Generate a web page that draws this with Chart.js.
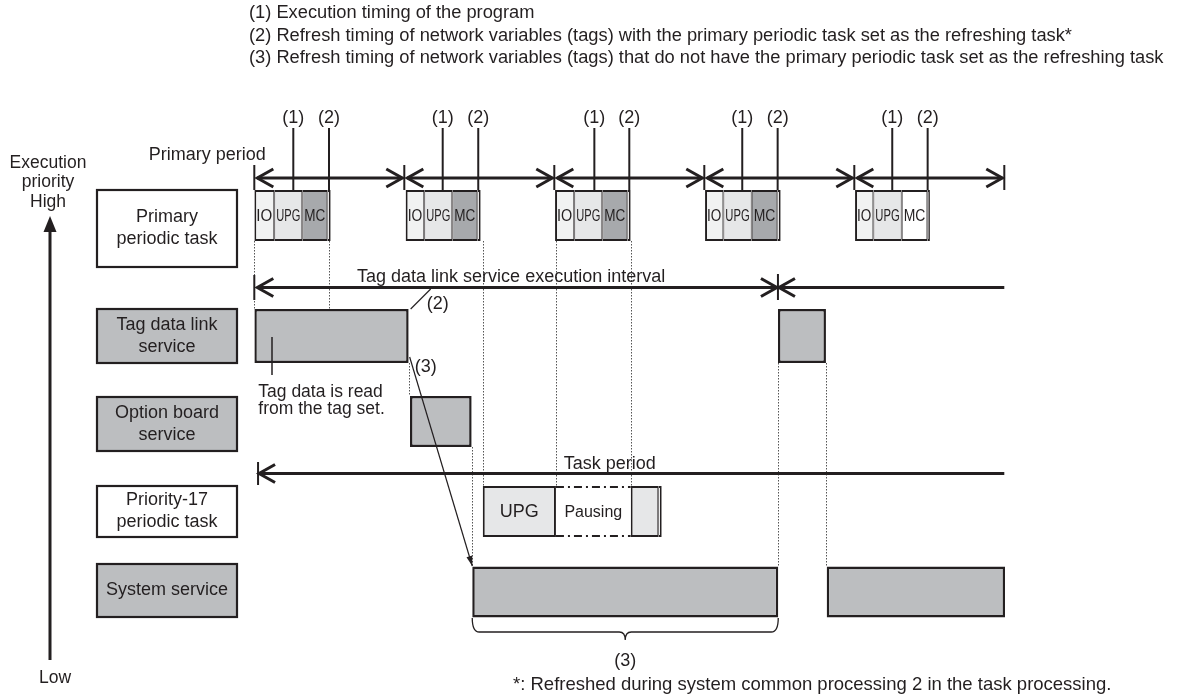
<!DOCTYPE html>
<html>
<head>
<meta charset="utf-8">
<script src="https://cdn.jsdelivr.net/npm/chart.js@4"></script>
<style>
  html, body { margin: 0; padding: 0; background: #fff; }
  canvas { display: block; }
</style>
</head>
<body>
<canvas id="myChart" width="1185" height="697"></canvas>
<script>
// ---- data (times in µs, primary period = 1000) ----
let rows = ['Primary periodic task', 'Tag data link service', 'Option board service', 'Priority-17 periodic task', 'System service'];
let rowText = [['Primary', 'periodic task'], ['Tag data link', 'service'], ['Option board', 'service'], ['Priority-17', 'periodic task'], ['System service']];

let periodTicks = [0, 1000, 2000, 3000, 4000, 5000];
let ioSpans   = [[0, 133], [1009, 1133], [2005, 2133], [3005, 3127], [4005, 4127]];
let upgSpans  = [[133, 320], [1133, 1320], [2133, 2320], [3127, 3316], [4127, 4316]];
let mcSpans   = [[320, 487], [1320, 1487], [2320, 2487], [3316, 3487], [4316, 4487]];
let tailSpans = [[487, 509], [1487, 1509], [2487, 2509], [3487, 3509], [4487, 4504]];
let programMarks = [260, 1256, 2267, 3253, 4253];   // (1)
let refreshMarks = [498, 1493, 2500, 3489, 4489];   // (2)

let tagLinkSpans = [[0, 1029], [3491, 3811]];
let optionSpans  = [[1038, 1449]];
let p17UpgSpans    = [[1523, 2011]];
let p17PauseSpans  = [[2011, 2509]];
let p17ResumeSpans = [[2509, 2693]];
let p17TailSpans   = [[2693, 2716]];
let systemSpans  = [[1453, 3493], [3816, 5005]];

let tagInterval = [0, 3491, 5000];
let taskPeriodStart = 25;
// dotted guides: [time, from row (bottom edge), to row (top edge)]
let guides = [[0, 0, 1], [498, 0, 1], [1029, 1, 2], [1449, 2, 4], [1523, 0, 3], [2011, 0, 3], [2509, 0, 3], [3491, 1, 4], [3811, 1, 4]];

let legendLines = [
  '(1) Execution timing of the program',
  '(2) Refresh timing of network variables (tags) with the primary periodic task set as the refreshing task*',
  '(3) Refresh timing of network variables (tags) that do not have the primary periodic task set as the refreshing task'
];
let footnote = '*: Refreshed during system common processing 2 in the task processing.';

// ---- styles / layout ----
const FONT = '"Liberation Sans", Arial, sans-serif';
const INK = '#231f20';
const GRAY = '#bcbec0', MID = '#a7a9ac', LIGHT = '#e6e7e8', PALE = '#f1f2f2';
const X0 = 254.3, PX_PER_US = 0.15, XMAX = 5010;
const rowBar = [[215.5, 51], [336, 54], [421.5, 51], [511.5, 51], [592, 51]];   // centre, thickness
const labelBox = [[190, 267], [309, 363], [397, 451], [486, 537], [564, 617]];
const labelFill = ['#fff', GRAY, GRAY, '#fff', GRAY];
const mcColors = [MID, MID, MID, MID, '#fff'];

function seg(caption, spans, row, fill, border) {
  return {
    label: caption || rows[row],
    caption: caption,
    data: spans.map(s => ({ x: s, y: rowBar[row][0] })),
    backgroundColor: fill,
    borderColor: INK,
    borderWidth: border,
    borderSkipped: false,
    barThickness: rowBar[row][1],
    inflateAmount: 0
  };
}

const edge = (l, r) => ({ top: 2, bottom: 2, left: l, right: r });
let datasets = [
  seg('IO', ioSpans, 0, PALE, edge(2, 1)),
  seg('UPG', upgSpans, 0, LIGHT, edge(1, 1)),
  seg('MC', mcSpans, 0, mcColors, edge(1, 1)),
  seg('', tailSpans, 0, '#fff', edge(1, 2)),
  seg('', tagLinkSpans, 1, GRAY, 2.5),
  seg('', optionSpans, 2, GRAY, 2.5),
  seg('UPG', p17UpgSpans, 3, LIGHT, 2),
  seg('Pausing', p17PauseSpans, 3, '#fff', 0),
  seg('', p17ResumeSpans, 3, LIGHT, edge(2, 1)),
  seg('', p17TailSpans, 3, '#fff', edge(1, 2)),
  seg('', systemSpans, 4, GRAY, 2.5)
];

// ---- drawing helpers ----
function stroke(ctx, pts, w, dash, color) {
  ctx.save();
  ctx.beginPath();
  ctx.lineWidth = w;
  ctx.strokeStyle = color || INK;
  ctx.setLineDash(dash || []);
  ctx.moveTo(pts[0][0], pts[0][1]);
  for (let i = 1; i < pts.length; i++) ctx.lineTo(pts[i][0], pts[i][1]);
  ctx.stroke();
  ctx.restore();
}
function head(ctx, x, y, dir) {
  stroke(ctx, [[x - dir * 16, y - 9], [x, y], [x - dir * 16, y + 9]], 3);
}
function text(ctx, s, x, y, size, align, maxW) {
  ctx.save();
  ctx.font = size + 'px ' + FONT;
  ctx.fillStyle = INK;
  ctx.textAlign = align || 'center';
  ctx.textBaseline = 'middle';
  if (maxW) ctx.fillText(s, x, y, maxW); else ctx.fillText(s, x, y);
  ctx.restore();
}

const diagram = {
  id: 'diagram',
  beforeDatasetsDraw(chart) {
    const ctx = chart.ctx, px = t => chart.scales.x.getPixelForValue(t);
    guides.forEach(g => {
      const x = Math.round(px(g[0])) + 0.5;
      const y1 = rowBar[g[1]][0] + rowBar[g[1]][1] / 2;
      const y2 = rowBar[g[2]][0] - rowBar[g[2]][1] / 2;
      stroke(ctx, [[x, y1], [x, y2]], 1, [1.5, 1.5], '#555');
    });
  },
  afterDatasetsDraw(chart) {
    const ctx = chart.ctx, px = t => chart.scales.x.getPixelForValue(t);

    // legend lines and footnote
    legendLines.forEach((s, i) => text(ctx, s, 249, 13 + i * 22.5, 18.3, 'left'));
    text(ctx, footnote, 513, 685, 18.5, 'left');

    // priority axis
    text(ctx, 'Execution', 48, 163, 17.5);
    text(ctx, 'priority', 48, 182.5, 17.5);
    text(ctx, 'High', 48, 202, 17.5);
    text(ctx, 'Low', 55, 678, 17.5);
    stroke(ctx, [[50, 660], [50, 228]], 3);
    ctx.save();
    ctx.fillStyle = INK;
    ctx.beginPath();
    ctx.moveTo(50, 216); ctx.lineTo(56.5, 232); ctx.lineTo(43.5, 232); ctx.closePath();
    ctx.fill();
    ctx.restore();

    // row label boxes
    rows.forEach((r, i) => {
      const [t, b] = labelBox[i];
      ctx.save();
      ctx.fillStyle = labelFill[i];
      ctx.fillRect(97, t, 140, b - t);
      ctx.lineWidth = 2.2;
      ctx.strokeStyle = INK;
      ctx.strokeRect(97, t, 140, b - t);
      ctx.restore();
      const lines = rowText[i], mid = (t + b) / 2;
      lines.forEach((s, k) => text(ctx, s, 167, mid + (k - (lines.length - 1) / 2) * 22, 18));
    });

    // captions inside bars
    chart.data.datasets.forEach((ds, di) => {
      if (!ds.caption) return;
      chart.getDatasetMeta(di).data.forEach(el => {
        const p = el.getProps(['x', 'y', 'base'], true);
        const w = Math.abs(p.x - p.base);
        const big = ds.data[0].y !== rowBar[0][0];
        text(ctx, ds.caption, (p.x + p.base) / 2, p.y + 1, big ? (ds.caption === 'Pausing' ? 16 : 18) : 16, 'center', w - 4);
      });
    });

    // pausing box: dash-dot top and bottom
    const pause = chart.getDatasetMeta(7).data[0].getProps(['x', 'y', 'base', 'height'], true);
    [pause.y - pause.height / 2 + 1, pause.y + pause.height / 2 - 1].forEach(y =>
      stroke(ctx, [[pause.base, y], [pause.x, y]], 2, [8, 4, 2, 4]));

    // primary period arrows
    const yP = 178;
    text(ctx, 'Primary period', px(0) - 47, 155, 18);
    periodTicks.forEach(t => stroke(ctx, [[px(t), 165], [px(t), 190]], 2));
    for (let i = 0; i < periodTicks.length - 1; i++) {
      const a = px(periodTicks[i]) + 3, b = px(periodTicks[i + 1]) - 2;
      stroke(ctx, [[a, yP], [b, yP]], 3);
      head(ctx, a, yP, -1);
      head(ctx, b, yP, 1);
    }
    programMarks.forEach(t => { stroke(ctx, [[px(t), 128], [px(t), 190]], 2); text(ctx, '(1)', px(t), 118, 18); });
    refreshMarks.forEach(t => { stroke(ctx, [[px(t), 128], [px(t), 190]], 2); text(ctx, '(2)', px(t), 118, 18); });

    // tag data link interval
    const yT = 287.5;
    const a = px(tagInterval[0]), b = px(tagInterval[1]), c = px(tagInterval[2]);
    stroke(ctx, [[a, 275], [a, 300]], 2);
    stroke(ctx, [[b, 274], [b, 300]], 2);
    stroke(ctx, [[a + 3, yT], [b - 1, yT]], 3);
    head(ctx, a + 3, yT, -1);
    head(ctx, b - 1, yT, 1);
    stroke(ctx, [[b + 1, yT], [c, yT]], 3);
    head(ctx, b + 1, yT, -1);
    text(ctx, 'Tag data link service execution interval', (a + b) / 2 - 5, 277, 18);

    // (2) leader and (3) arrow from the tag data link bar
    const tagEnd = px(tagLinkSpans[0][1]);
    stroke(ctx, [[tagEnd + 2, 309], [tagEnd + 22, 289]], 1.2);
    text(ctx, '(2)', tagEnd + 29, 304, 18);
    const sx = px(systemSpans[0][0]), ex = tagEnd + 1, ey = 357, tx = sx, ty = 566;
    stroke(ctx, [[ex, ey], [tx, ty]], 1.2);
    const ang = Math.atan2(ty - ey, tx - ex);
    ctx.save();
    ctx.fillStyle = INK;
    ctx.beginPath();
    ctx.moveTo(tx, ty);
    ctx.lineTo(tx - 10 * Math.cos(ang) + 3 * Math.sin(ang), ty - 10 * Math.sin(ang) - 3 * Math.cos(ang));
    ctx.lineTo(tx - 10 * Math.cos(ang) - 3 * Math.sin(ang), ty - 10 * Math.sin(ang) + 3 * Math.cos(ang));
    ctx.closePath();
    ctx.fill();
    ctx.restore();
    text(ctx, '(3)', tagEnd + 17, 367, 18);

    // tag data read note
    stroke(ctx, [[px(118), 337], [px(118), 375]], 1.5);
    text(ctx, 'Tag data is read', px(0) + 4, 392, 17.5, 'left');
    text(ctx, 'from the tag set.', px(0) + 4, 409, 17.5, 'left');

    // task period line
    const yK = 473.5, k0 = px(taskPeriodStart);
    stroke(ctx, [[k0, 462], [k0, 485]], 2);
    stroke(ctx, [[k0 + 1, yK], [px(5000), yK]], 3);
    head(ctx, k0 + 1, yK, -1);
    text(ctx, 'Task period', px(2370), 464, 18);

    // brace under the system service run
    const l = px(systemSpans[0][0]), r = px(systemSpans[0][1]), m = (l + r) / 2;
    ctx.save();
    ctx.beginPath();
    ctx.lineWidth = 1.3;
    ctx.strokeStyle = INK;
    ctx.moveTo(l, 618);
    ctx.quadraticCurveTo(l, 632, l + 7, 632);
    ctx.lineTo(m - 6, 632);
    ctx.quadraticCurveTo(m, 632, m, 640);
    ctx.quadraticCurveTo(m, 632, m + 6, 632);
    ctx.lineTo(r - 7, 632);
    ctx.quadraticCurveTo(r, 632, r, 618);
    ctx.stroke();
    ctx.restore();
    text(ctx, '(3)', m, 661, 18);
  }
};

var ctx = document.getElementById('myChart').getContext('2d');
var chart = new Chart(ctx, {
  type: 'bar',
  data: { datasets: datasets },
  options: {
    indexAxis: 'y',
    responsive: false,
    animation: false,
    devicePixelRatio: 1,
    layout: { padding: { left: X0, right: 1185 - X0 - XMAX * PX_PER_US, top: 0, bottom: 0 } },
    scales: {
      x: { type: 'linear', min: 0, max: XMAX, display: false, stacked: false },
      y: { type: 'linear', min: 0, max: 697, reverse: true, display: false, stacked: true, offset: false }
    },
    plugins: { legend: { display: false }, tooltip: { enabled: false } }
  },
  plugins: [diagram]
});
</script>
</body>
</html>
